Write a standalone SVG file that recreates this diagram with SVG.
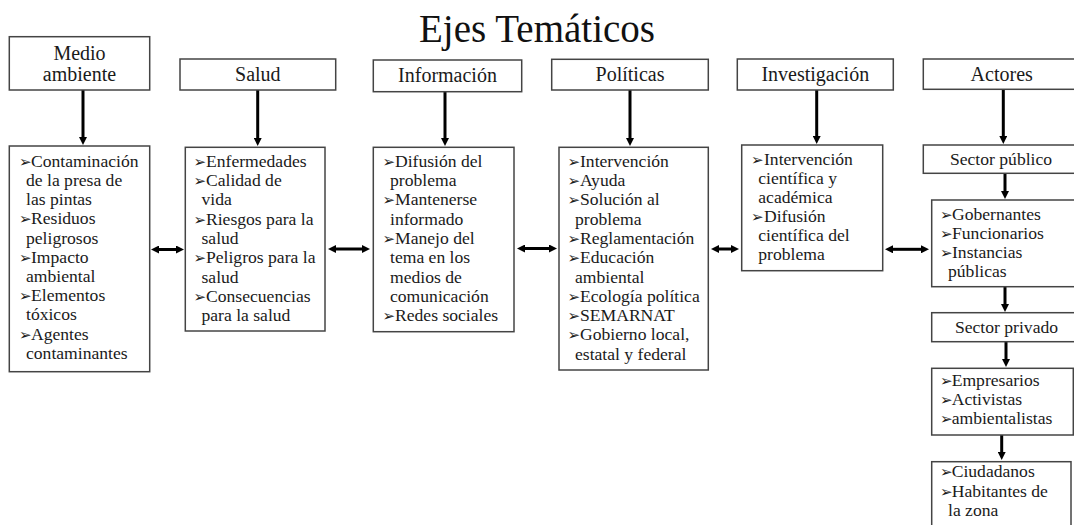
<svg xmlns="http://www.w3.org/2000/svg" width="1074" height="525" viewBox="0 0 1074 525">
<style>
  .box{fill:#fff;stroke:#444;stroke-width:1.5}
  .t{font-family:"Liberation Serif","Times New Roman",serif;font-size:17.6px;fill:#1a1a1a}
  .h{font-family:"Liberation Serif","Times New Roman",serif;font-size:20px;fill:#1a1a1a;text-anchor:middle}
  .b{font-family:"DejaVu Sans",sans-serif;font-size:15px}
  .title{font-family:"Liberation Serif","Times New Roman",serif;font-size:39px;fill:#111;text-anchor:middle}
  .c{fill:none;stroke:#000;stroke-width:3}
</style>
<defs>
  <marker id="ah" viewBox="0 0 8 8" refX="0" refY="4" markerWidth="8" markerHeight="8" markerUnits="userSpaceOnUse" orient="auto-start-reverse">
    <path d="M0,0 L8,4 L0,8 z" fill="#000"/>
  </marker>
</defs>
<rect width="1074" height="525" fill="#fff"/>
<text class="title" x="537" y="42">Ejes Temáticos</text>

<g id="connectors">
  <path class="c" d="M83,90 V137" marker-end="url(#ah)"/>
  <path class="c" d="M257.7,90 V138" marker-end="url(#ah)"/>
  <path class="c" d="M445,91.7 V138" marker-end="url(#ah)"/>
  <path class="c" d="M630,90 V138" marker-end="url(#ah)"/>
  <path class="c" d="M816.7,90 V136" marker-end="url(#ah)"/>
  <path class="c" d="M1003.3,89.3 V136" marker-end="url(#ah)"/>
  <path class="c" d="M1005,173.3 V191" marker-end="url(#ah)"/>
  <path class="c" d="M1005,286.7 V304" marker-end="url(#ah)"/>
  <path class="c" d="M1006,341.7 V359" marker-end="url(#ah)"/>
  <path class="c" d="M1001.7,435 V452" marker-end="url(#ah)"/>
  <path class="c" d="M159,249.5 H176" marker-start="url(#ah)" marker-end="url(#ah)"/>
  <path class="c" d="M336,249 H362" marker-start="url(#ah)" marker-end="url(#ah)"/>
  <path class="c" d="M525,248.5 H549" marker-start="url(#ah)" marker-end="url(#ah)"/>
  <path class="c" d="M719,249 H731" marker-start="url(#ah)" marker-end="url(#ah)"/>
  <path class="c" d="M893,249.3 H921" marker-start="url(#ah)" marker-end="url(#ah)"/>
</g>

<g id="h-medio">
  <rect class="box" x="9.3" y="36.7" width="140.4" height="53.3"/>
  <text class="h" x="79.5" y="60">Medio</text>
  <text class="h" x="79.5" y="81">ambiente</text>
</g>
<g id="h-salud">
  <rect class="box" x="180" y="59" width="155.7" height="31"/>
  <text class="h" x="257.8" y="81">Salud</text>
</g>
<g id="h-info">
  <rect class="box" x="373.3" y="60" width="148.4" height="31.7"/>
  <text class="h" x="447.5" y="81.7">Información</text>
</g>
<g id="h-politicas">
  <rect class="box" x="551.7" y="59.3" width="156.6" height="30.7"/>
  <text class="h" x="630" y="80.5">Políticas</text>
</g>
<g id="h-investigacion">
  <rect class="box" x="737.3" y="59" width="156" height="31"/>
  <text class="h" x="815.3" y="81">Investigación</text>
</g>
<g id="h-actores">
  <rect class="box" x="923.3" y="59" width="152" height="30.3"/>
  <text class="h" x="1001.7" y="80.5">Actores</text>
</g>

<g id="b-medio">
  <rect class="box" x="9.3" y="146" width="140.4" height="225.7"/>
  <text class="t" y="166.7"><tspan class="b" x="19">➢</tspan><tspan x="31">Contaminación</tspan></text>
  <text class="t" x="26" y="185.9">de la presa de</text>
  <text class="t" x="26" y="205.1">las pintas</text>
  <text class="t" y="224.3"><tspan class="b" x="19">➢</tspan><tspan x="31">Residuos</tspan></text>
  <text class="t" x="26" y="243.5">peligrosos</text>
  <text class="t" y="262.7"><tspan class="b" x="19">➢</tspan><tspan x="31">Impacto</tspan></text>
  <text class="t" x="26" y="281.9">ambiental</text>
  <text class="t" y="301.1"><tspan class="b" x="19">➢</tspan><tspan x="31">Elementos</tspan></text>
  <text class="t" x="26" y="320.3">tóxicos</text>
  <text class="t" y="339.5"><tspan class="b" x="19">➢</tspan><tspan x="31">Agentes</tspan></text>
  <text class="t" x="26" y="358.7">contaminantes</text>
</g>

<g id="b-salud">
  <rect class="box" x="185.3" y="147.3" width="139.7" height="183.7"/>
  <text class="t" y="166.7"><tspan class="b" x="193.5">➢</tspan><tspan x="206">Enfermedades</tspan></text>
  <text class="t" y="186"><tspan class="b" x="193.5">➢</tspan><tspan x="206">Calidad de</tspan></text>
  <text class="t" x="201.5" y="205.3">vida</text>
  <text class="t" y="224.6"><tspan class="b" x="193.5">➢</tspan><tspan x="206">Riesgos para la</tspan></text>
  <text class="t" x="201.5" y="243.9">salud</text>
  <text class="t" y="263.2"><tspan class="b" x="193.5">➢</tspan><tspan x="206">Peligros para la</tspan></text>
  <text class="t" x="201.5" y="282.5">salud</text>
  <text class="t" y="301.8"><tspan class="b" x="193.5">➢</tspan><tspan x="206">Consecuencias</tspan></text>
  <text class="t" x="201.5" y="321.1">para la salud</text>
</g>

<g id="b-info">
  <rect class="box" x="373.3" y="147.3" width="140.7" height="184.4"/>
  <text class="t" y="166.7"><tspan class="b" x="382.5">➢</tspan><tspan x="395">Difusión del</tspan></text>
  <text class="t" x="390" y="186">problema</text>
  <text class="t" y="205.3"><tspan class="b" x="382.5">➢</tspan><tspan x="395">Mantenerse</tspan></text>
  <text class="t" x="390" y="224.6">informado</text>
  <text class="t" y="243.9"><tspan class="b" x="382.5">➢</tspan><tspan x="395">Manejo del</tspan></text>
  <text class="t" x="390" y="263.2">tema en los</text>
  <text class="t" x="390" y="282.5">medios de</text>
  <text class="t" x="390" y="301.8">comunicación</text>
  <text class="t" y="321.1"><tspan class="b" x="382.5">➢</tspan><tspan x="395">Redes sociales</tspan></text>
</g>

<g id="b-politicas">
  <rect class="box" x="559" y="147.3" width="149.3" height="222.7"/>
  <text class="t" y="166.7"><tspan class="b" x="567.5">➢</tspan><tspan x="580">Intervención</tspan></text>
  <text class="t" y="186"><tspan class="b" x="567.5">➢</tspan><tspan x="580">Ayuda</tspan></text>
  <text class="t" y="205.3"><tspan class="b" x="567.5">➢</tspan><tspan x="580">Solución al</tspan></text>
  <text class="t" x="575" y="224.6">problema</text>
  <text class="t" y="243.9"><tspan class="b" x="567.5">➢</tspan><tspan x="580">Reglamentación</tspan></text>
  <text class="t" y="263.2"><tspan class="b" x="567.5">➢</tspan><tspan x="580">Educación</tspan></text>
  <text class="t" x="575" y="282.5">ambiental</text>
  <text class="t" y="301.8"><tspan class="b" x="567.5">➢</tspan><tspan x="580">Ecología política</tspan></text>
  <text class="t" y="321.1"><tspan class="b" x="567.5">➢</tspan><tspan x="580">SEMARNAT</tspan></text>
  <text class="t" y="340.4"><tspan class="b" x="567.5">➢</tspan><tspan x="580">Gobierno local,</tspan></text>
  <text class="t" x="575" y="359.7">estatal y federal</text>
</g>

<g id="b-investigacion">
  <rect class="box" x="741.7" y="145" width="141" height="125.7"/>
  <text class="t" y="165"><tspan class="b" x="751">➢</tspan><tspan x="764">Intervención</tspan></text>
  <text class="t" x="758.3" y="184">científica y</text>
  <text class="t" x="758.3" y="203">académica</text>
  <text class="t" y="222"><tspan class="b" x="751">➢</tspan><tspan x="764">Difusión</tspan></text>
  <text class="t" x="758.3" y="241">científica del</text>
  <text class="t" x="758.3" y="260">problema</text>
</g>

<g id="sector-publico">
  <rect class="box" x="923.3" y="145" width="152" height="28.3"/>
  <text class="t" x="1001" y="165" text-anchor="middle">Sector público</text>
</g>
<g id="b-publico">
  <rect class="box" x="931.7" y="200" width="144" height="86.7"/>
  <text class="t" y="220"><tspan class="b" x="940">➢</tspan><tspan x="952">Gobernantes</tspan></text>
  <text class="t" y="239"><tspan class="b" x="940">➢</tspan><tspan x="952">Funcionarios</tspan></text>
  <text class="t" y="258"><tspan class="b" x="940">➢</tspan><tspan x="952">Instancias</tspan></text>
  <text class="t" x="948" y="277">públicas</text>
</g>
<g id="sector-privado">
  <rect class="box" x="931.7" y="312.7" width="144" height="29"/>
  <text class="t" x="1006.5" y="333" text-anchor="middle">Sector privado</text>
</g>
<g id="b-privado">
  <rect class="box" x="931.7" y="368.3" width="141.6" height="66.7"/>
  <text class="t" y="386"><tspan class="b" x="940">➢</tspan><tspan x="951.7">Empresarios</tspan></text>
  <text class="t" y="405"><tspan class="b" x="940">➢</tspan><tspan x="951.7">Activistas</tspan></text>
  <text class="t" y="424"><tspan class="b" x="940">➢</tspan><tspan x="951.7">ambientalistas</tspan></text>
</g>
<g id="b-ciudadanos">
  <rect class="box" x="931.7" y="461.7" width="139.3" height="70"/>
  <text class="t" y="477"><tspan class="b" x="940">➢</tspan><tspan x="951.7">Ciudadanos</tspan></text>
  <text class="t" y="496.5"><tspan class="b" x="940">➢</tspan><tspan x="951.7">Habitantes de</tspan></text>
  <text class="t" x="948" y="516">la zona</text>
</g>
</svg>
